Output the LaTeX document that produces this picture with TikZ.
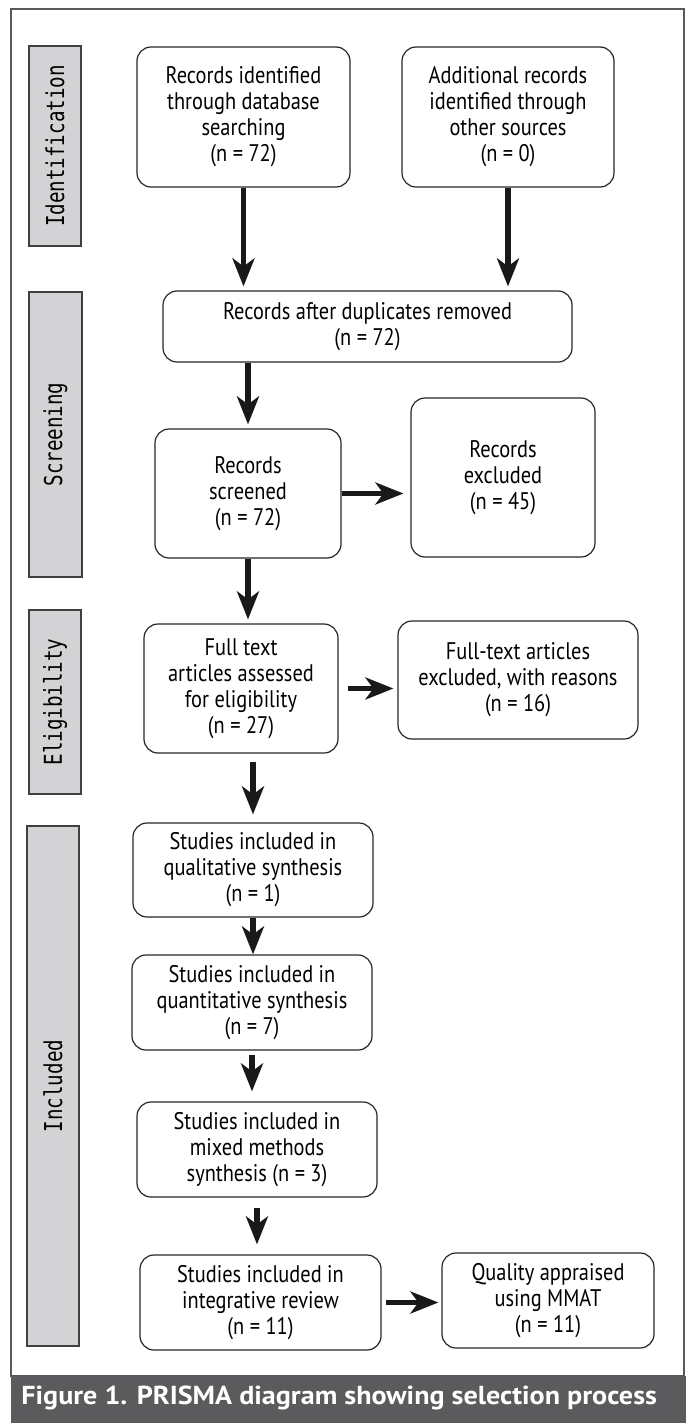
\documentclass[tikz,border=0pt]{standalone}
\usepackage{fontspec}
\setmainfont{PT Sans}
\newfontfamily\boxfont[FakeStretch=0.85]{PT Sans}
\newfontfamily\phasefont[FakeStretch=0.78]{DejaVu Sans Mono}
\newfontfamily\capfont[FakeStretch=1.08]{PT Sans}
\usetikzlibrary{arrows.meta}
\usetikzlibrary{calc}
\definecolor{phasegray}{RGB}{211,211,213}
\definecolor{capgray}{RGB}{91,91,93}
\tikzset{
	stage/.style={draw=black!85, line width=0.6pt, rounded corners=7pt, align=center, inner sep=0pt,
		font=\boxfont\fontsize{12}{13}\selectfont},
	phase/.style={draw=black!75, fill=phasegray, line width=0.7pt, inner sep=0pt, rotate=90,
		font=\phasefont\fontsize{12.3}{14}\selectfont},
	flow/.style={line width=2.6pt, black!90, -{Stealth[length=14pt,width=11pt,inset=4pt]}},
}

\begin{document}
\begin{tikzpicture}[x=0.5pt,y=-0.5pt]
	% page in pixels, y downwards
	\useasboundingbox (0,0) rectangle (686,1423);
	\draw[black!65, line width=0.8pt] (11,9) rectangle (684,1376);
	\fill[capgray] (11,1376) rectangle (686,1423);
	\node[anchor=base west, inner sep=0pt, text=white, font=\capfont\bfseries\fontsize{13}{15}\selectfont] (caption) at (21,1404) {Figure 1. PRISMA diagram showing selection process};
	
	% phase labels
	\node[phase, minimum width=100pt, minimum height=26pt] (pident) at (55,146) {Identification};
	\node[phase, minimum width=142.5pt, minimum height=26.5pt] (pscreen) at (55.5,434.5) {Screening};
	\node[phase, minimum width=92pt, minimum height=26pt] (pelig) at (55,702) {Eligibility};
	\node[phase, minimum width=260pt, minimum height=26pt] (pincl) at (53,1086) {Included};
	
	% boxes
	\node[stage, minimum width=106.5pt, minimum height=70pt] (ident) at (243.5,117) {Records identified\\through database\\searching\\(n = 72)};
	\node[stage, minimum width=106pt, minimum height=70pt] (other) at (508,117) {Additional records\\identified through\\other sources\\(n = 0)};
	\node[stage, minimum width=204.5pt, minimum height=35.5pt] (dup) at (367.5,326.5) {Records after duplicates removed\\(n = 72)};
	\node[stage, minimum width=93pt, minimum height=64.5pt] (screen) at (248,493.5) {Records\\screened\\(n = 72)};
	\node[stage, minimum width=92pt, minimum height=79.5pt] (excl) at (503,477.5) {Records\\excluded\\(n = 45)};
	\node[stage, minimum width=97pt, minimum height=64.5pt] (full) at (241,688.5) {Full text\\articles assessed\\for eligibility\\(n = 27)};
	\node[stage, minimum width=120pt, minimum height=59pt] (fexcl) at (518,680) {Full-text articles\\excluded, with reasons\\(n = 16)};
	\node[stage, minimum width=120pt, minimum height=47pt] (qual) at (253,870) {Studies included in\\qualitative synthesis\\(n = 1)};
	\node[stage, minimum width=120pt, minimum height=47.5pt] (quant) at (252,1002.5) {Studies included in\\quantitative synthesis\\(n = 7)};
	\node[stage, minimum width=120pt, minimum height=47.5pt] (mixed) at (257,1149.5) {Studies included in\\mixed methods\\synthesis (n = 3)};
	\node[stage, minimum width=120.5pt, minimum height=47.5pt] (integ) at (260.5,1302.5) {Studies included in\\integrative review\\(n = 11)};
	\node[stage, minimum width=106pt, minimum height=47.5pt] (mmat) at (548,1300.5) {Quality appraised\\using MMAT\\(n = 11)};
	
	% arrows
	\draw[flow, shorten >=2pt] (ident) -- (ident |- dup.north);
	\draw[flow, shorten >=2pt] (other) -- (other |- dup.north);
	\draw[flow, shorten >=2pt] (screen.north |- dup.south) -- (screen.north);
	\draw[flow, shorten >=3.5pt] (screen) -- (screen -| excl.west);
	\draw[flow, shorten >=2pt] (screen.south) -- (screen.south |- full.north);
	\draw[flow, shorten <=4.5pt, shorten >=2pt] (full.east) -- (full.east -| fexcl.west);
	\draw[flow, shorten <=4pt, shorten >=4pt] (qual.north |- full.south) -- (qual.north);
	\draw[flow] (qual) -- (qual |- quant.north);
	\draw[flow, shorten <=2pt, shorten >=5pt] (quant) -- (quant |- mixed.north);
	\draw[flow, shorten <=5pt, shorten >=5pt] (mixed) -- (mixed |- integ.north);
	\draw[flow, shorten <=2pt, shorten >=1.5pt] (integ) -- (integ -| mmat.west);
\end{tikzpicture}
\end{document}
